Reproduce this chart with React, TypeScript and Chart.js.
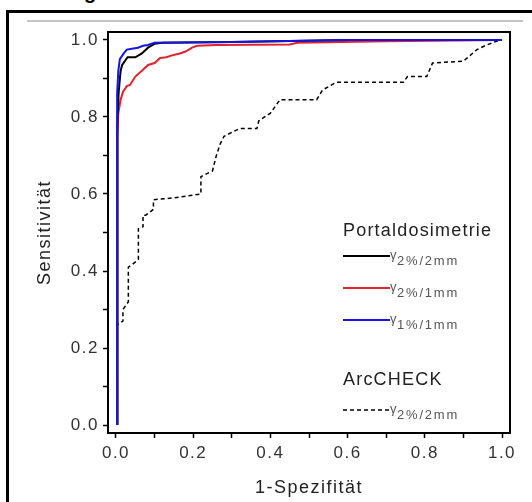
import React, { useEffect, useRef } from "react";
import { Chart, registerables } from "chart.js";

Chart.register(...registerables);

const FONT = '"Liberation Sans", Arial, Helvetica, sans-serif';

// Tick values and labels (both axes)
const tickValues = [0, 0.1, 0.2, 0.3, 0.4, 0.5, 0.6, 0.7, 0.8, 0.9, 1.0];
const tickLabels = ["0.0", "", "0.2", "", "0.4", "", "0.6", "", "0.8", "", "1.0"];

const xTitle = "1-Spezifität";
const yTitle = "Sensitivität";

// Portaldosimetrie gamma 1%/1mm (blue)
const blueX = [0.003, 0.003, 0.006, 0.01, 0.02, 0.028, 0.045, 0.057, 0.07, 0.083, 0.1, 0.3, 0.6, 1.0];
const blueY = [0.0, 0.86, 0.92, 0.95, 0.965, 0.975, 0.978, 0.98, 0.985, 0.987, 0.993, 0.995, 1.0, 1.0];

// Portaldosimetrie gamma 2%/2mm (black)
const blackX = [0.004, 0.004, 0.007, 0.012, 0.016, 0.03, 0.05, 0.067, 0.083, 0.1, 0.12, 0.3, 0.6, 1.0];
const blackY = [0.0, 0.8, 0.865, 0.92, 0.935, 0.955, 0.955, 0.965, 0.98, 0.99, 0.993, 0.995, 1.0, 1.0];

// Portaldosimetrie gamma 2%/1mm (red)
const redX = [0.003, 0.003, 0.006, 0.012, 0.018, 0.028, 0.036, 0.05, 0.067, 0.083, 0.1, 0.114, 0.13, 0.145, 0.165, 0.18, 0.197, 0.21, 0.26, 0.45, 0.47, 0.7, 1.0];
const redY = [0.0, 0.75, 0.81, 0.845, 0.865, 0.88, 0.883, 0.905, 0.92, 0.935, 0.94, 0.953, 0.955, 0.96, 0.965, 0.97, 0.98, 0.985, 0.987, 0.988, 0.993, 0.997, 1.0];

// ArcCHECK gamma 2%/2mm (dashed)
const arcX = [0.002, 0.003, 0.018, 0.018, 0.032, 0.032, 0.04, 0.058, 0.058, 0.07, 0.07, 0.077, 0.097, 0.097, 0.15, 0.22, 0.22, 0.25, 0.26, 0.27, 0.28, 0.32, 0.365, 0.37, 0.4, 0.425, 0.52, 0.535, 0.57, 0.745, 0.755, 0.805, 0.82, 0.9, 0.935, 0.96, 0.995, 1.0];
const arcY = [0.0, 0.26, 0.27, 0.3, 0.32, 0.41, 0.415, 0.43, 0.51, 0.515, 0.545, 0.545, 0.56, 0.585, 0.59, 0.6, 0.645, 0.66, 0.7, 0.73, 0.75, 0.77, 0.77, 0.79, 0.81, 0.845, 0.845, 0.87, 0.89, 0.89, 0.905, 0.905, 0.94, 0.945, 0.975, 0.987, 1.0, 1.0];

// Legend texts
const legendGroups = ["Portaldosimetrie", "ArcCHECK"];
const legendSubs = ["2%/2mm", "2%/1mm", "1%/1mm", "2%/2mm"];
const legendColors = ["#000000", "#e3222b", "#1515e0", "#000000"];

const zip = (xs: number[], ys: number[]) => xs.map((x, i) => ({ x, y: ys[i] }));

const framePlugin = {
  id: "framePlugin",
  beforeDraw(chart: any) {
    chart.ctx.letterSpacing = "1.5px";
  },
  afterDatasetsDraw(chart: any) {
    const { ctx, chartArea } = chart;
    ctx.save();
    ctx.strokeStyle = "#000";
    ctx.lineWidth = 2;
    ctx.strokeRect(chartArea.left, chartArea.top, chartArea.right - chartArea.left, chartArea.bottom - chartArea.top);
    ctx.restore();
  },
  afterDraw(chart: any) {
    const ctx = chart.ctx;
    ctx.save();
    ctx.letterSpacing = "1.2px";
    ctx.font = `18px ${FONT}`;
    ctx.fillStyle = "#222";
    ctx.textBaseline = "alphabetic";
    ctx.fillText(legendGroups[0], 343, 236);
    ctx.fillText(legendGroups[1], 343, 385);
    const rowY = [256, 288, 320, 410];
    rowY.forEach((y, i) => {
      ctx.beginPath();
      ctx.strokeStyle = legendColors[i];
      ctx.lineWidth = i === 3 ? 1.5 : 2;
      ctx.setLineDash(i === 3 ? [4, 3] : []);
      ctx.moveTo(343, y);
      ctx.lineTo(390, y);
      ctx.stroke();
      ctx.setLineDash([]);
      ctx.fillStyle = "#555";
      ctx.letterSpacing = "0px";
      ctx.font = `13px ${FONT}`;
      ctx.fillText("γ", 390, y + 3);
      ctx.letterSpacing = "1.8px";
      ctx.font = `13px ${FONT}`;
      ctx.fillText(legendSubs[i], 397, y + 9);
    });
    ctx.restore();
  },
};

function makeScale(isX: boolean) {
  return {
    type: "linear" as const,
    min: -0.0207,
    max: 1.0207,
    afterBuildTicks: (s: any) => {
      s.ticks = tickValues.map((v) => ({ value: v }));
    },
    afterFit: (s: any) => {
      if (isX) s.height = 69;
      else s.width = 108;
    },
    ticks: {
      callback: (_v: any, i: number) => tickLabels[i],
      font: { size: 17, family: FONT },
      color: "#333",
      padding: isX ? 5 : 4,
      maxRotation: 0,
      autoSkip: false,
    },
    grid: {
      display: true,
      drawOnChartArea: false,
      drawTicks: true,
      tickLength: 5,
      tickColor: "#000",
      tickWidth: 1.5,
    },
    border: { display: false },
    title: {
      display: true,
      text: isX ? xTitle : yTitle,
      font: { size: 18, family: FONT },
      color: "#222",
      padding: isX ? { top: 0, bottom: 3 } : { top: 34, bottom: 0 },
    },
  };
}

export default function App() {
  const ref = useRef<HTMLCanvasElement | null>(null);
  useEffect(() => {
    if (!ref.current) return;
    const chart = new Chart(ref.current, {
      type: "line",
      data: {
        datasets: [
          { label: "γ1%/1mm", data: zip(blueX, blueY), borderColor: "#1515e0", borderWidth: 2 },
          { label: "γ2%/2mm", data: zip(blackX, blackY), borderColor: "#000000", borderWidth: 2 },
          { label: "γ2%/1mm", data: zip(redX, redY), borderColor: "#e3222b", borderWidth: 2 },
          { label: "ArcCHECK γ2%/2mm", data: zip(arcX, arcY), borderColor: "#000000", borderWidth: 1.5, borderDash: [4, 3] },
        ].map((d) => ({ ...d, pointRadius: 0, tension: 0, fill: false })),
      },
      options: {
        animation: false,
        responsive: false,
        devicePixelRatio: 1,
        layout: { padding: { left: 0, top: 32, right: 22, bottom: 0 } },
        plugins: { legend: { display: false }, tooltip: { enabled: false } },
        scales: { x: makeScale(true) as any, y: makeScale(false) as any },
      },
      plugins: [framePlugin],
    });
    return () => chart.destroy();
  }, []);

  return (
    <div style={{ position: "absolute", left: 0, top: 0, width: 532, height: 502, overflow: "hidden", background: "#fff" }}>
      <span style={{ position: "absolute", left: 84, top: -18, font: `bold 20px ${FONT}`, lineHeight: "20px", color: "#000" }}>g</span>
      <div style={{ position: "absolute", left: 6, top: 10, width: 600, height: 600, borderLeft: "3px solid #000", borderTop: "3px solid #000" }} />
      <div style={{ position: "absolute", left: 27, top: 20, width: 496, height: 2, background: "#c4c4c8" }} />
      <canvas ref={ref} width={532} height={502} style={{ position: "absolute", left: 0, top: 0, width: 532, height: 502 }} />
    </div>
  );
}
